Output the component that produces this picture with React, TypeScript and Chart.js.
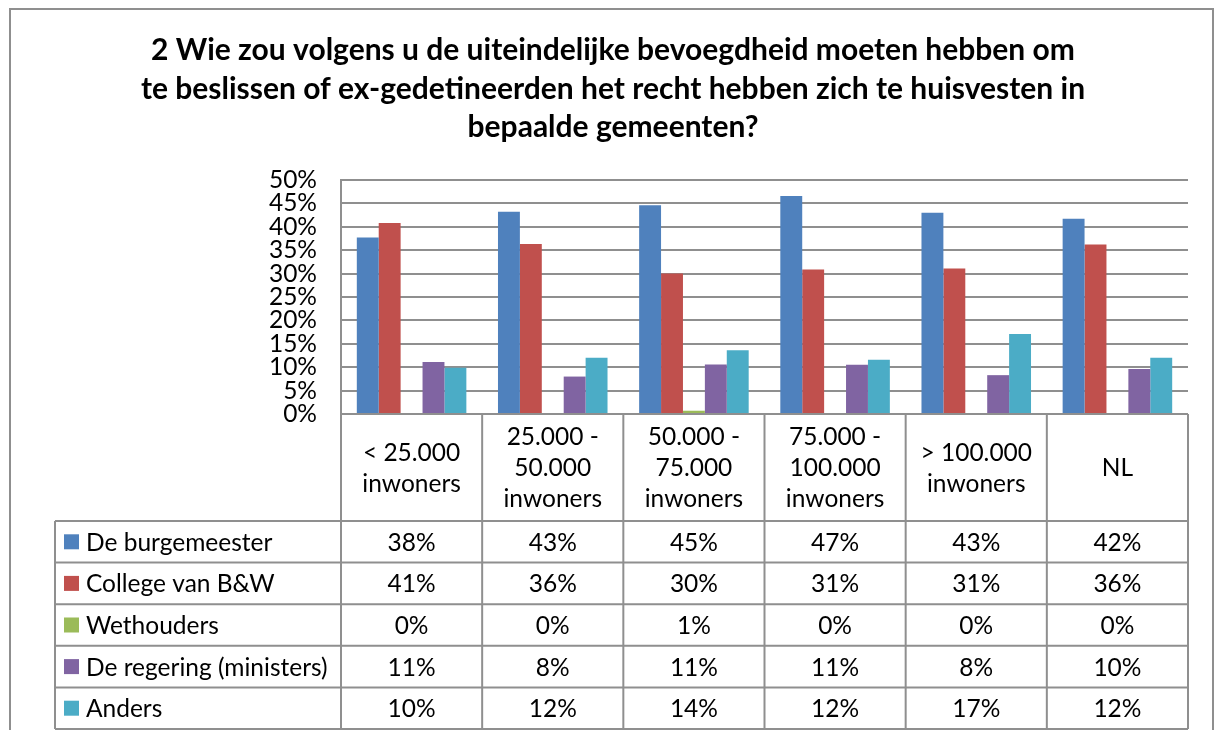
import React, { useEffect, useRef } from "react";
import { Chart, registerables } from "chart.js";

Chart.register(...registerables);

const titleLines = [
  "2 Wie zou volgens u de uiteindelijke bevoegdheid moeten hebben om",
  "te beslissen of ex-gedetineerden het recht hebben zich te huisvesten in",
  "bepaalde gemeenten?",
];

const categories = [
  ["< 25.000", "inwoners"],
  ["25.000 -", "50.000", "inwoners"],
  ["50.000 -", "75.000", "inwoners"],
  ["75.000 -", "100.000", "inwoners"],
  ["> 100.000", "inwoners"],
  ["NL"],
];

const seriesNames = [
  "De burgemeester",
  "College van B&W",
  "Wethouders",
  "De regering (ministers)",
  "Anders",
];
const seriesColors = ["#4F81BD", "#C0504D", "#9BBB59", "#8064A2", "#4BACC6"];

const burgemeester = [37.7, 43.2, 44.6, 46.6, 43.0, 41.7];
const college = [40.8, 36.3, 30.0, 30.9, 31.1, 36.2];
const wethouders = [0, 0, 0.7, 0, 0, 0];
const regering = [11.1, 8.0, 10.6, 10.5, 8.3, 9.6];
const anders = [9.9, 12.0, 13.6, 11.6, 17.1, 12.0];

const seriesValues = [burgemeester, college, wethouders, regering, anders];

const yTicks = [0, 5, 10, 15, 20, 25, 30, 35, 40, 45, 50];

const FONT = "Lato";
const LINE = "#8f8f8f";
const BODY = 24.5;

const tablePlugin = {
  id: "tablePlugin",
  afterDraw(chart: any) {
    const ctx = chart.ctx;
    const { left, right, bottom } = chart.chartArea;
    const n = categories.length;
    const colW = (right - left) / n;
    const headerH = 107;
    const rowH = 41.6;
    const legendLeft = 55;
    const headerBottom = bottom + headerH;
    const tableBottom = headerBottom + rowH * seriesNames.length;

    ctx.save();
    // outer frame
    ctx.strokeStyle = LINE;
    ctx.lineWidth = 2;
    ctx.strokeRect(10, 9, 1203, 800);

    // title
    ctx.fillStyle = "#000";
    ctx.font = `bold 30px ${FONT}`;
    ctx.textAlign = "center";
    ctx.textBaseline = "alphabetic";
    titleLines.forEach((t, i) => ctx.fillText(t, 613, 60 + i * 38.5));

    // table lines
    ctx.strokeStyle = LINE;
    ctx.lineWidth = 2;
    ctx.beginPath();
    ctx.moveTo(left, bottom);
    ctx.lineTo(right, bottom);
    for (let r = 0; r <= seriesNames.length; r++) {
      const y = headerBottom + r * rowH;
      ctx.moveTo(legendLeft, y);
      ctx.lineTo(right, y);
    }
    ctx.moveTo(legendLeft, headerBottom);
    ctx.lineTo(legendLeft, tableBottom);
    for (let c = 0; c <= n; c++) {
      const x = left + c * colW;
      ctx.moveTo(x, bottom);
      ctx.lineTo(x, tableBottom);
    }
    ctx.stroke();

    // header labels
    ctx.font = `${BODY}px ${FONT}`;
    ctx.fillStyle = "#000";
    ctx.textAlign = "center";
    ctx.textBaseline = "middle";
    const lh = 31;
    categories.forEach((lines, c) => {
      const cx = chart.scales.x.getPixelForValue(c);
      const cy = bottom + headerH / 2;
      const start = cy - ((lines.length - 1) * lh) / 2;
      lines.forEach((t, i) => ctx.fillText(t, cx, start + i * lh + 1));
    });

    // rows
    seriesNames.forEach((name, r) => {
      const cy = headerBottom + r * rowH + rowH / 2;
      ctx.fillStyle = seriesColors[r];
      ctx.fillRect(64, cy - 7.5, 15, 15);
      ctx.fillStyle = "#000";
      ctx.textAlign = "left";
      ctx.fillText(name, 86, cy + 1);
      ctx.textAlign = "center";
      seriesValues[r].forEach((v, c) => {
        const cx = chart.scales.x.getPixelForValue(c);
        ctx.fillText(Math.round(v) + "%", cx, cy + 1);
      });
    });
    ctx.restore();
  },
};

export default function App() {
  const ref = useRef<HTMLCanvasElement | null>(null);
  useEffect(() => {
    if (!ref.current) return;
    const chart = new Chart(ref.current, {
      type: "bar",
      data: {
        labels: categories.map((c) => c.join(" ")),
        datasets: seriesNames.map((name, i) => ({
          label: name,
          data: seriesValues[i],
          backgroundColor: seriesColors[i],
          borderWidth: 0,
          barPercentage: 1,
          categoryPercentage: 0.776,
        })),
      },
      options: {
        animation: false,
        responsive: false,
        devicePixelRatio: 1,
        layout: { padding: { left: 0, right: 27, top: 180, bottom: 316 } },
        plugins: {
          legend: { display: false },
          title: { display: false },
          tooltip: { enabled: false },
        },
        scales: {
          x: { display: false, offset: true },
          y: {
            min: 0,
            max: 50,
            afterFit: (s: any) => {
              s.width = 341;
            },
            afterBuildTicks: (s: any) => {
              s.ticks = yTicks.map((v) => ({ value: v }));
            },
            ticks: {
              autoSkip: false,
              callback: (v: any) => v + "%",
              font: { family: FONT, size: BODY },
              color: "#000",
              padding: 24,
            },
            grid: { color: LINE, lineWidth: 2, drawTicks: false },
            border: { display: true, color: LINE, width: 2 },
          },
        },
      },
      plugins: [tablePlugin],
    });
    return () => chart.destroy();
  }, []);
  return (
    <div style={{ position: "absolute", left: 0, top: 0, width: 1215, height: 730, background: "#fff" }}>
      <canvas ref={ref} width={1215} height={730} />
    </div>
  );
}
